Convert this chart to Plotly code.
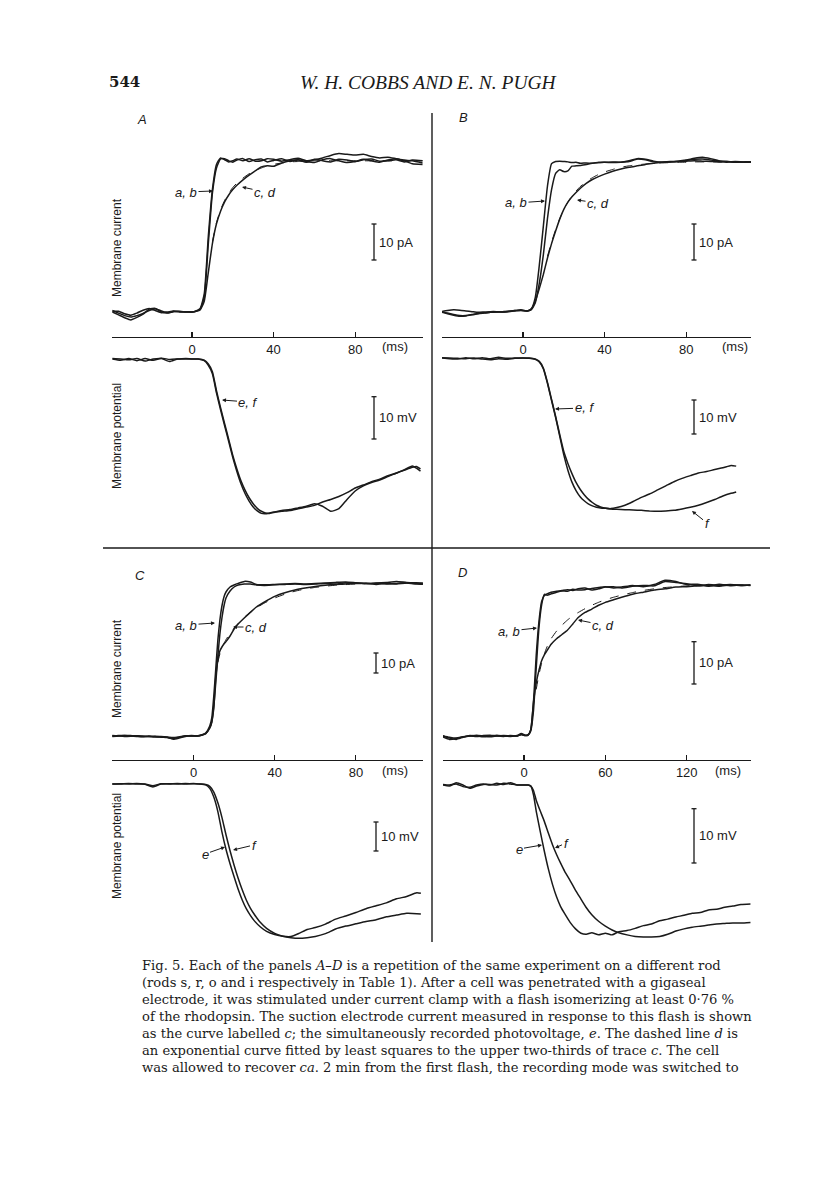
import plotly.graph_objects as go

W, H = 816, 1181
INK = '#1a1a1a'

# ---------------- DATA (ms, pA, mV) ----------------
# Panel A
TA_cur = [-39,-36,-33,-30,-27,-24,-21,-18,-15,-12,-9,-6,-3,
          0,2,4,6,8,10,12,14,16,18,20,22,
          25,28,31,34,37,40,
          44,48,52,56,60,64,68,72,76,80,84,88,92,96,100,104,108,
          113]
A_a = [0.4,-0.3,-1.0,-1.4,-1.0,-0.4,0.4,0.9,0.3,-0.2,0.2,0.1,0.0,
       0.0,0.2,0.8,4,19,33,40,42.5,42.6,42.0,41.6,42.2,
       42.6,41.8,42.3,42.5,41.7,42.1,
       42.6,41.8,42.2,41.6,42.4,42.0,41.7,42.4,42.2,41.8,42.3,42.5,41.9,42.0,42.3,41.7,42.2,
       42.0]
A_b = [0.0,-0.8,-1.6,-2.2,-1.5,-0.6,0.8,1.0,0.0,-0.3,0.1,0.2,0.0,
       0.0,0.3,1.0,5,21,34,41,42.8,42.3,41.7,42.0,42.5,
       42.0,42.6,41.9,42.0,42.6,42.4,
       41.9,42.3,42.7,42.0,42.3,42.8,43.5,44.0,43.8,43.6,43.8,43.2,42.8,43.0,42.6,42.2,42.0,
       41.4]
A_c = [0.2,0.2,-0.5,-0.9,-0.3,0.5,1.0,0.4,-0.2,0.0,0.3,0.0,0.1,
       0.0,0.2,0.6,3,11,19,24.5,28,30.6,32.5,34,35.2,
       36.7,38,39.2,40.3,40.6,40.5,
       41.4,42.0,42.3,41.8,41.5,42.3,42.6,42.0,41.5,41.8,42.4,42.0,41.6,42.2,42.6,42.0,41.2,
       41.0]
A_d = [None,None,None,None,None,None,None,None,None,None,None,None,None,
       None,None,None,None,None,19.5,24.8,28.4,31,33,34.6,35.8,
       37.2,38.4,39.3,40.0,40.6,41.0,
       41.4,41.7,41.8,41.9,42.0,42.0,42.0,42.0,42.0,42.0,42.0,42.0,42.0,42.0,42.0,42.0,42.0,
       42.0]
TA_pot = [-39,-35,-31,-27,-23,-19,-15,-11,-7,-3,
          0,3,6,8,10,12,14,16,18,20,22,24,26,28,30,32,34,36,38,
          41,44,48,52,56,60,64,68,72,76,80,84,88,92,96,100,104,108,110,112]
A_e = [0.0,-0.3,0.1,-0.4,0.1,-0.3,0.2,-0.1,0.0,0.1,
       0.0,0.0,-0.3,-1.2,-3.0,-7.5,-11.5,-15.3,-19.0,-22.8,-26.0,-28.8,-31.0,-32.8,-34.2,-35.3,-36.0,-36.4,-36.5,
       -36.2,-36.0,-35.8,-35.4,-35.0,-34.6,-33.8,-33.2,-32.5,-31.6,-30.5,-29.8,-29.0,-28.4,-27.6,-27.0,-26.3,-25.6,-25.4,-26.0]
A_f = [0.1,0.0,-0.2,0.1,-0.5,0.0,0.1,-0.6,0.0,0.0,
       0.0,0.0,-0.4,-1.5,-3.5,-8.0,-12.0,-15.8,-19.5,-23.3,-26.6,-29.5,-31.8,-33.6,-35.0,-35.9,-36.5,-36.6,-36.4,
       -36.1,-35.8,-35.6,-35.2,-34.8,-34.2,-34.8,-36.0,-35.4,-33.2,-31.2,-30.0,-29.2,-28.6,-27.8,-27.0,-26.2,-25.3,-25.8,-26.5]

# Panel B
TB_cur = [-40,-37,-34,-31,-28,-25,-22,-19,-16,-13,-10,-7,-4,-1,
          2,4,6,8,10,12,14,16,18,20,22,24,26,28,
          31,34,37,40,
          44,48,52,56,60,64,68,72,76,80,84,88,92,96,100,104,108,112]
B_a = [0.0,-0.3,-0.7,-1.0,-1.0,-0.7,-0.4,-0.2,-0.1,0.0,0.0,0.1,0.3,0.5,
       0.3,0.8,4,13,24,35,41.2,41.8,41.9,41.8,41.7,41.5,41.6,41.3,
       41.4,41.3,41.5,41.6,
       41.5,41.6,41.8,42.5,42.3,41.7,41.6,41.8,41.9,42.2,42.7,43.0,42.6,42.0,41.8,41.7,41.6,41.7]
B_b = [0.1,0.4,0.6,0.5,0.3,0.1,-0.1,0.0,0.1,0.1,0.0,0.2,0.4,0.6,
       0.3,0.6,2.5,8,16,26,34,38.5,39.5,39.0,39.2,40.5,40.6,40.7,
       41.0,41.3,41.5,41.6,
       41.7,41.6,42.0,42.6,42.4,41.9,41.6,41.7,41.8,42.1,42.4,42.5,42.2,41.9,41.6,41.8,41.7,41.7]
B_c = [0.0,-0.5,-0.9,-1.2,-1.1,-0.8,-0.5,-0.3,-0.1,0.0,0.1,0.2,0.4,0.4,
       0.3,0.8,3,6.5,10.5,15,19,22.5,25.8,28.5,30.5,32,33.2,34.3,
       35.7,36.8,37.6,38.3,
       39.1,39.7,40.2,40.6,41.0,41.3,41.6,41.7,41.8,41.9,42.0,41.9,41.8,41.7,41.8,41.6,41.7,41.7]
B_d = [None,None,None,None,None,None,None,None,None,None,None,None,None,None,
       None,None,None,None,None,15.5,19.4,22.9,25.9,28.4,30.5,32.2,33.6,34.8,
       36.2,37.3,38.2,38.9,
       39.6,40.2,40.6,40.9,41.1,41.3,41.4,41.5,41.6,41.6,41.7,41.7,41.7,41.7,41.7,41.7,41.7,41.7]
TB_pot = [-40,-36,-32,-28,-24,-20,-16,-12,-8,-4,
          0,3,6,8,10,12,14,16,18,20,22,24,26,28,30,32,34,36,38,40,
          43,46,50,54,58,62,66,70,74,78,82,86,90,94,98,102,104.5]
B_e = [0.0,-0.2,-0.3,0.1,-0.2,0.1,-0.2,0.2,-0.1,0.0,
       0.0,-0.1,-0.4,-1.2,-3.2,-7.5,-12.5,-17.5,-23.0,-28.5,-33.0,-36.5,-39.0,-40.8,-42.0,-42.9,-43.5,-43.9,-44.1,-44.2,
       -44.3,-44.0,-43.3,-42.2,-41.0,-40.0,-38.8,-37.6,-36.4,-35.4,-34.6,-33.8,-33.4,-32.8,-32.3,-31.6,-31.8]
B_f = [0.1,0.0,-0.1,-0.2,0.0,-0.3,-0.5,-0.2,-0.4,-0.1,
       0.0,0.0,-0.3,-1.0,-3.0,-7.2,-12.2,-17.2,-22.5,-27.5,-31.0,-34.0,-36.6,-38.6,-40.2,-41.5,-42.5,-43.3,-43.8,-44.1,
       -44.4,-44.5,-44.6,-44.7,-44.8,-45.0,-45.1,-45.0,-44.8,-44.4,-43.9,-43.3,-42.5,-41.6,-40.6,-39.8,-39.4]

# Panel C
TC_cur = [-40,-37,-34,-31,-28,-25,-22,-19,-16,-13,-10,-7,-4,-1,
          2,4,6,8,9,10,11,12,13,14,15,16,18,20,22,
          25,28,31,35,40,
          45,50,55,60,65,70,75,80,85,90,95,100,105,110,113]
C_a = [0.0,0.3,0.2,0.0,-0.2,-0.4,0.0,-0.3,-0.6,-0.8,-1.2,-0.6,0.0,0.0,
       0.0,0.5,1.5,5,9,20,34,48,58,65,69.5,72,74.5,75.5,76.3,
       77.3,77.0,75.8,75.6,75.8,
       76.0,76.2,76.0,76.2,76.5,76.8,77.0,76.6,76.2,76.5,76.8,77.2,76.8,76.6,76.4]
C_b = [-0.3,0.0,0.2,0.3,0.0,-0.3,-0.2,-0.5,-0.4,-0.6,-1.6,-1.0,-0.2,0.2,
       0.0,0.4,1.2,4,7,15,27,40,51,59,65,69,72.5,74.5,75.5,
       76.0,76.0,75.5,75.3,75.6,
       75.8,76.0,75.8,76.0,76.3,76.0,76.6,76.2,76.4,75.8,76.3,76.0,76.5,76.0,75.9]
C_c = [0.2,0.0,-0.2,-0.1,0.1,0.0,-0.3,-0.1,-0.3,-0.5,-0.8,-0.4,0.1,0.0,
       0.1,0.5,1.2,4,7,14,30,38,42.5,44.5,46,47.2,50,53.5,56,
       59,61.8,64.5,67,69.8,
       71.6,73,74,74.8,75.4,75.8,76.0,76.5,76.2,76.4,76.0,76.3,76.6,76.2,76.0]
C_d = [None,None,None,None,None,None,None,None,None,None,None,None,None,None,
       None,None,None,None,None,None,None,37,41,44,46.3,48.2,51.3,54,56.3,
       59.3,61.9,64.1,66.5,69,
       70.9,72.4,73.5,74.3,74.9,75.4,75.7,76.0,76.2,76.3,76.4,76.4,76.5,76.5,76.5]
TC_pot = [-40,-36,-32,-28,-24,-20,-16,-12,-8,-4,
          0,3,6,8,10,12,14,16,18,20,22,24,26,28,30,
          33,36,40,44,48,52,56,60,
          65,70,75,80,85,90,95,100,105,110,112]
C_e = [0.0,0.1,0.0,0.2,-0.1,-1.0,0.0,0.1,0.0,0.2,
       0.1,0.0,-0.3,-1.5,-4.5,-9.5,-16.5,-22.5,-27.5,-32.0,-36.3,-40.0,-43.0,-45.3,-47.2,
       -49.3,-50.8,-51.9,-52.5,-52.6,-51.5,-50.2,-49.5,
       -48.3,-46.6,-45.5,-44.3,-43.0,-42.0,-41.0,-39.6,-38.8,-37.5,-37.7]
C_f = [0.0,0.0,0.2,0.0,0.0,-0.6,0.1,0.0,0.2,0.0,
       0.2,0.0,-0.2,-0.8,-2.8,-6.5,-11.5,-17.5,-23.0,-28.0,-32.5,-36.5,-40.0,-42.8,-45.0,
       -47.8,-49.8,-51.5,-52.5,-53.0,-53.2,-53.0,-52.6,
       -51.6,-50.0,-49.0,-48.2,-47.4,-46.8,-45.8,-45.2,-44.6,-44.7,-44.8]

# Panel D
TD_cur = [-60,-55,-50,-45,-40,-35,-30,-25,-20,-15,-10,-5,-2,
          1,3,5,7,9,11,13,15,17,20,
          24,28,32,36,40,45,50,55,60,66,72,
          80,88,96,104,112,120,128,136,144,152,160,167]
D_a = [0.0,-0.5,-0.8,-0.3,0.1,0.0,-0.2,0.0,0.2,0.0,-0.1,0.1,0.6,
       0.2,0.3,1.5,8,19,27,31.8,33.2,33.6,34.0,
       34.2,34.4,34.6,34.4,34.8,35.0,34.5,34.8,35.2,35.3,35.0,
       35.4,35.6,35.5,36.5,36.3,36.0,35.5,35.8,35.6,35.8,35.6,35.7]
D_b = [-0.2,-0.8,-0.6,-0.2,0.0,0.2,0.0,-0.2,0.0,0.1,0.0,0.0,0.3,
       0.1,0.2,1.2,6,16,25.5,31,33.5,33.3,33.6,
       34.0,34.3,34.2,34.7,34.5,34.6,34.9,35.1,35.3,35.0,35.2,
       35.6,35.3,35.8,36.8,36.5,35.8,35.9,35.4,35.9,35.5,35.7,35.6]
D_c = [0.1,-0.3,-0.5,-0.2,0.0,-0.1,0.1,0.2,0.0,-0.1,0.1,0.0,0.4,
       0.1,0.2,1.5,8,12.5,15.5,17.8,19.2,20.2,21.7,
       23.0,24.0,25.0,26.5,28.0,29.2,30.0,30.9,31.6,32.2,32.8,
       33.5,34.0,34.5,34.8,35.2,35.3,35.5,35.6,35.4,35.7,35.6,35.7]
D_d = [None,None,None,None,None,None,None,None,None,None,None,None,None,
       None,None,None,None,11,14.5,17.2,19.4,21.1,23.0,
       24.8,26.2,27.4,28.4,29.2,30.1,30.9,31.6,32.2,32.8,33.3,
       33.9,34.4,34.8,35.1,35.3,35.5,35.6,35.6,35.7,35.7,35.7,35.7]
TD_pot = [-60,-55,-50,-45,-40,-35,-30,-25,-20,-15,-10,-5,
          0,3,5,7,9,12,15,18,21,24,27,30,
          34,38,42,46,50,55,60,65,70,76,82,88,94,100,
          106,112,118,124,130,136,142,148,154,160,167]
D_e = [0.0,-0.2,0.4,0.0,-0.6,-0.2,0.1,0.1,0.0,0.3,0.2,0.0,
       0.0,0.0,-0.2,-1.8,-4.8,-8.6,-12.2,-15.5,-18.3,-20.6,-22.4,-23.7,
       -25.3,-26.5,-27.3,-27.5,-27.2,-27.6,-27.3,-27.6,-27.0,-26.8,-26.4,-25.9,-25.6,-25.0,
       -24.7,-24.3,-24.0,-23.6,-23.5,-23.0,-22.9,-22.5,-22.3,-22.0,-21.9]
D_f = [0.1,0.0,0.2,-0.3,-0.4,0.0,0.2,0.0,0.3,0.1,0.4,0.0,
       0.0,0.0,-0.2,-1.0,-2.8,-4.8,-6.7,-8.9,-11.0,-12.8,-14.4,-15.9,
       -17.6,-19.4,-21.0,-22.6,-23.9,-25.1,-26.0,-26.7,-27.2,-27.6,-27.9,-28.0,-28.0,-27.9,
       -27.5,-26.9,-26.5,-26.2,-26.0,-25.8,-25.6,-25.5,-25.4,-25.4,-25.3]

TICKS_ABC = [0, 40, 80]
TICKS_D = [0, 60, 120]
BAR_SIZE = 10

# ---------------- LAYOUT GEOMETRY (pixels) ----------------
panels = [
    dict(letter='A', Tc=TA_cur, cur=[A_a, A_b, A_c, A_d], Tp=TA_pot, pot=[A_e, A_f],
         x0=112, x1=423, t0=192, ppm=2.04, ticks=TICKS_ABC,
         cur_box=(145, 337, 312, 3.6), pot_box=(348, 535, 359, 4.23),
         bar_x=374, cur_bar_bot=260, pot_bar_bot=439, letter_xy=(142, 119), ms_xy=(395, 346),
         lab_cur_y=247, lab_pot_y=436),
    dict(letter='B', Tc=TB_cur, cur=[B_a, B_b, B_c, B_d], Tp=TB_pot, pot=[B_e, B_f],
         x0=442, x1=751, t0=523, ppm=2.04, ticks=TICKS_ABC,
         cur_box=(145, 337, 312, 3.6), pot_box=(348, 535, 358, 3.4),
         bar_x=694, cur_bar_bot=260, pot_bar_bot=434, letter_xy=(463, 117), ms_xy=(735, 346),
         lab_cur_y=None, lab_pot_y=None),
    dict(letter='C', Tc=TC_cur, cur=[C_a, C_b, C_c, C_d], Tp=TC_pot, pot=[C_e, C_f],
         x0=112, x1=423, t0=193.5, ppm=2.03, ticks=TICKS_ABC,
         cur_box=(565, 760, 736, 2.0), pot_box=(772, 945, 784, 2.9),
         bar_x=376, cur_bar_bot=673, pot_bar_bot=851, letter_xy=(140, 575), ms_xy=(395, 770),
         lab_cur_y=668, lab_pot_y=846),
    dict(letter='D', Tc=TD_cur, cur=[D_a, D_b, D_c, D_d], Tp=TD_pot, pot=[D_e, D_f],
         x0=443, x1=751, t0=524, ppm=1.356, ticks=TICKS_D,
         cur_box=(565, 760, 736, 4.23), pot_box=(772, 945, 785, 5.43),
         bar_x=694, cur_bar_bot=684, pot_bar_bot=863, letter_xy=(462, 573), ms_xy=(728, 770),
         lab_cur_y=None, lab_pot_y=None),
]

def PX(x): return x / W
def PY(y): return 1 - y / H

SANS = 'Liberation Sans, Arial, Helvetica, sans-serif'
fig = go.Figure()
layout = dict(width=W, height=H, margin=dict(l=0, r=0, t=0, b=0),
              paper_bgcolor='white', plot_bgcolor='white', showlegend=False)
shapes, annos = [], []

k = 0
for p in panels:
    xr = [(p['x0'] - p['t0']) / p['ppm'], (p['x1'] - p['t0']) / p['ppm']]
    for kind in ('cur', 'pot'):
        k += 1
        xn = 'x' if k == 1 else f'x{k}'
        yn = 'y' if k == 1 else f'y{k}'
        top, bot, base, ppu = p[kind + '_box']
        yr = [(base - bot) / ppu, (base - top) / ppu]
        xa = dict(domain=[PX(p['x0']), PX(p['x1'])], range=xr, anchor=yn,
                  showgrid=False, zeroline=False, fixedrange=True)
        if kind == 'cur':
            xa.update(showline=True, linecolor=INK, linewidth=1.3, ticks='inside', ticklen=5,
                      tickwidth=1.2, tickcolor=INK, tickvals=p['ticks'],
                      ticktext=[str(v) for v in p['ticks']],
                      tickfont=dict(family=SANS, size=13, color=INK))
        else:
            xa.update(visible=False)
        ya = dict(domain=[PY(bot), PY(top)], range=yr, anchor=xn, visible=False,
                  fixedrange=True)
        layout['xaxis' if k == 1 else f'xaxis{k}'] = xa
        layout['yaxis' if k == 1 else f'yaxis{k}'] = ya

        T = p['Tc'] if kind == 'cur' else p['Tp']
        series = p[kind]
        for i, vals in enumerate(series):
            dashed = (kind == 'cur' and i == 3)
            fig.add_trace(go.Scatter(
                x=T, y=vals, xaxis=xn, yaxis=yn, mode='lines',
                line=dict(color=INK, width=1.0 if dashed else 1.5,
                          dash='dash' if dashed else 'solid',
                          shape='spline', smoothing=0.5),
                connectgaps=False, hoverinfo='skip'))

        # scale bar (10 pA / 10 mV)
        bar_bot_px = p['cur_bar_bot'] if kind == 'cur' else p['pot_bar_bot']
        tb = (p['bar_x'] - p['t0']) / p['ppm']
        v0 = (base - bar_bot_px) / ppu
        v1 = v0 + BAR_SIZE
        cw = 2.5 / p['ppm']
        ln = dict(color=INK, width=1.3)
        shapes.append(dict(type='line', xref=xn, yref=yn, x0=tb, x1=tb, y0=v0, y1=v1, line=ln))
        shapes.append(dict(type='line', xref=xn, yref=yn, x0=tb - cw, x1=tb + cw, y0=v0, y1=v0, line=ln))
        shapes.append(dict(type='line', xref=xn, yref=yn, x0=tb - cw, x1=tb + cw, y0=v1, y1=v1, line=ln))
        annos.append(dict(xref=xn, yref=yn, x=tb + 2.6 / p['ppm'], y=(v0 + v1) / 2,
                          text='10 pA' if kind == 'cur' else '10 mV', showarrow=False,
                          xanchor='left', yanchor='middle',
                          font=dict(family=SANS, size=13, color=INK)))

    # panel letter, (ms)
    lx, ly = p['letter_xy']
    annos.append(dict(xref='paper', yref='paper', x=PX(lx), y=PY(ly), text='<i>' + p['letter'] + '</i>',
                      showarrow=False, xanchor='center', yanchor='middle',
                      font=dict(family=SANS, size=13, color=INK)))
    mx, my = p['ms_xy']
    annos.append(dict(xref='paper', yref='paper', x=PX(mx), y=PY(my), text='(ms)',
                      showarrow=False, xanchor='center', yanchor='middle',
                      font=dict(family=SANS, size=13, color=INK)))
    for key, txt in (('lab_cur_y', 'Membrane current'), ('lab_pot_y', 'Membrane potential')):
        if p[key] is not None:
            annos.append(dict(xref='paper', yref='paper', x=PX(117), y=PY(p[key]), text=txt,
                              textangle=-90, showarrow=False, xanchor='center', yanchor='middle',
                              font=dict(family=SANS, size=12, color=INK)))

# curve labels with arrows: (text, head px, text px)
labels = [
    ('a, b', (213, 191), (186, 192)), ('c, d', (242, 187), (265, 192)), ('e, f', (222, 400), (248, 402)),
    ('a, b', (545, 201), (516, 203)), ('c, d', (577, 200), (598, 203)), ('e, f', (555, 409), (584, 408)),
    ('f', (692, 511), (707, 523)),
    ('a, b', (215, 623), (186, 625)), ('c, d', (233, 627), (256, 627)), ('e', (225, 847), (205, 854)),
    ('f', (233, 850), (254, 845)),
    ('a, b', (537, 628), (509, 631)), ('c, d', (578, 620), (603, 625)), ('e', (542, 845), (519, 849)),
    ('f', (555, 848), (566, 843)),
]
for txt, (hx, hy), (tx, ty) in labels:
    annos.append(dict(xref='paper', yref='paper', x=PX(hx), y=PY(hy), ax=tx - hx, ay=ty - hy,
                      axref='pixel', ayref='pixel', text='<i>' + txt + '</i>', showarrow=True,
                      arrowhead=2, arrowsize=0.8, arrowwidth=1.0, arrowcolor=INK, standoff=0,
                      font=dict(family=SANS, size=13, color=INK)))

# dividers
shapes.append(dict(type='line', xref='paper', yref='paper', x0=PX(432), x1=PX(432), y0=PY(113), y1=PY(942),
                   line=dict(color=INK, width=1.4)))
shapes.append(dict(type='line', xref='paper', yref='paper', x0=PX(103), x1=PX(770), y0=PY(548), y1=PY(548),
                   line=dict(color=INK, width=1.4)))

# header
SERIF = 'DejaVu Serif, Liberation Serif, serif'
annos.append(dict(xref='paper', yref='paper', x=PX(107), y=PY(82), text='<b>544</b>', showarrow=False,
                  xanchor='left', yanchor='middle', font=dict(family=SERIF, size=15, color=INK)))
annos.append(dict(xref='paper', yref='paper', x=PX(428), y=PY(82), text='<i>W. H. COBBS AND E. N. PUGH</i>',
                  showarrow=False, xanchor='center', yanchor='middle',
                  font=dict(family='Liberation Serif, serif', size=19.5, color=INK)))

caption = [
    'Fig. 5. Each of the panels <i>A–D</i> is a repetition of the same experiment on a different rod',
    '(rods s, r, o and i respectively in Table 1). After a cell was penetrated with a gigaseal',
    'electrode, it was stimulated under current clamp with a flash isomerizing at least 0·76 %',
    'of the rhodopsin. The suction electrode current measured in response to this flash is shown',
    'as the curve labelled <i>c</i>; the simultaneously recorded photovoltage, <i>e</i>. The dashed line <i>d</i> is',
    'an exponential curve fitted by least squares to the upper two-thirds of trace <i>c</i>. The cell',
    'was allowed to recover <i>ca</i>. 2 min from the first flash, the recording mode was switched to',
]
for i, line in enumerate(caption):
    annos.append(dict(xref='paper', yref='paper', x=PX(140), y=PY(965 + 17 * i), text=line,
                      showarrow=False, xanchor='left', yanchor='middle',
                      font=dict(family=SERIF, size=13.1, color=INK)))

layout['shapes'] = shapes
layout['annotations'] = annos
fig.update_layout(**layout)
fig.write_html('out.html', config={'displayModeBar': False, 'staticPlot': True},
               post_script="document.body.style.margin='0';document.body.style.padding='0';")
